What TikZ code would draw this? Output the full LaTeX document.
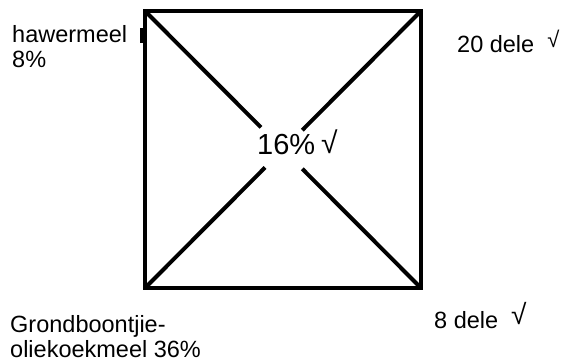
\documentclass[tikz,border=0pt]{standalone}
\usepackage{fontspec}
\setmainfont{Liberation Sans}
\usetikzlibrary{calc}

\tikzset{
	side/.style={anchor=base west,inner sep=0pt,align=left,font=\fontsize{23.5}{25}\selectfont},
	edge/.style={line width=4pt},
}
\newcommand{\tck}[2]{{\fontsize{#1}{#1}\selectfont\raisebox{#2}{√}}}

\begin{document}
\begin{tikzpicture}[x=1pt,y=-1pt]
	\useasboundingbox (0,0) rectangle (563,363);
	\coordinate (TL) at (145,11);
	\coordinate (TR) at (421,11);
	\coordinate (BL) at (145,288);
	\coordinate (BR) at (421,288);
	\draw[edge] (TL) rectangle (BR);
	% the two diagonals, broken round the middle text
	\draw[edge] (TL)--($(TL)!0.42!(BR)$);
	\draw[edge] (BR)--($(BR)!0.43!(TL)$);
	\draw[edge] (TR)--($(TR)!0.43!(BL)$);
	\draw[edge] (BL)--($(BL)!0.435!(TR)$);
	\fill (140,28) rectangle (145,43);
	\node[anchor=base west,inner sep=0pt,font=\fontsize{29}{30}\selectfont] (mid) at (257,155) {16\%\hspace{6pt}\tck{30}{1pt}};
	\node[side] (haw) at (12,68) {hawermeel\\8\%};
	\node[side] (delea) at (457,53) {20 dele\hspace{13pt}\tck{22}{5pt}};
	\node[side] (deleb) at (434,329) {8 dele\hspace{13pt}\tck{28}{4pt}};
	\node[side] (grond) at (10,358) {Grondboontjie-\\oliekoekmeel 36\%};
\end{tikzpicture}
\end{document}
